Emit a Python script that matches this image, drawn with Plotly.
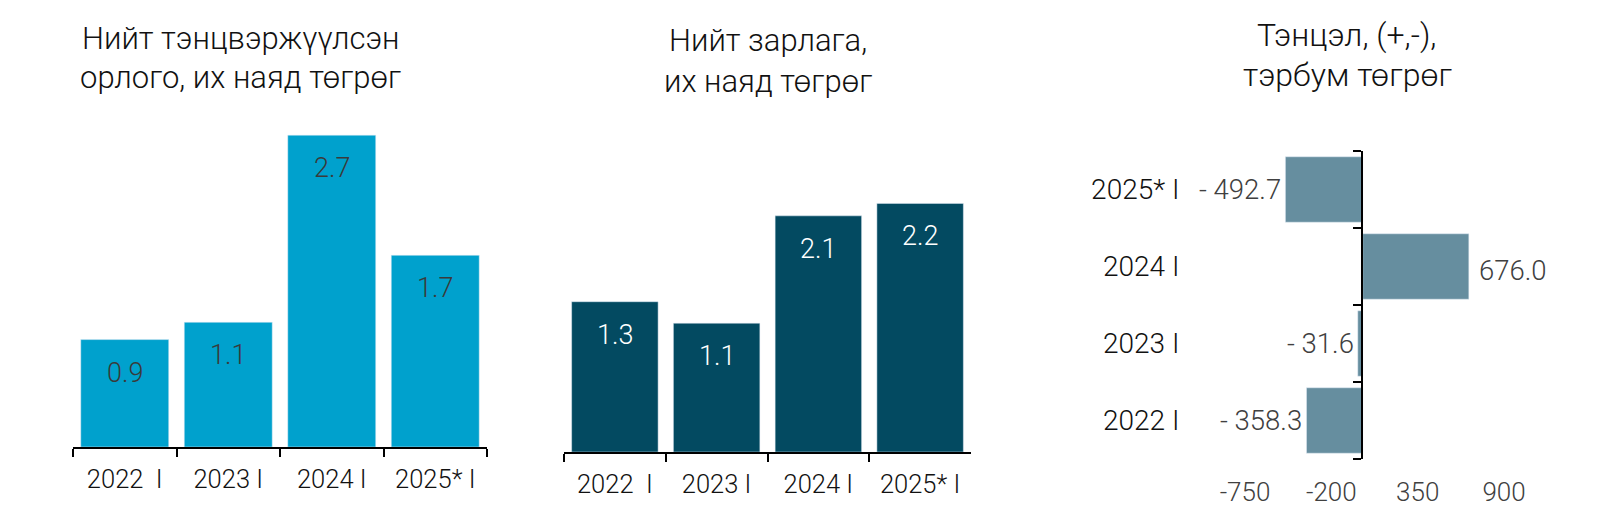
import plotly.graph_objects as go

# ---------------- data ----------------
years = ["2022  I", "2023 I", "2024 I", "2025* I"]
income = [0.93, 1.08, 2.70, 1.66]          # их наяд төгрөг
expenditure = [1.33, 1.14, 2.09, 2.20]     # их наяд төгрөг
balance_years = ["2022 I", "2023 I", "2024 I", "2025* I"]
balance = [-358.3, -31.6, 676.0, -492.7]   # тэрбум төгрөг
balance_ticks = [-750, -200, 350, 900]

title1 = ["Нийт тэнцвэржүүлсэн", "орлого, их наяд төгрөг"]
title2 = ["Нийт зарлага,", "их наяд төгрөг"]
title3 = ["Тэнцэл, (+,-),", "тэрбум төгрөг"]

# ---------------- style ----------------
OFF = 8                      # default page body margin
W, H = 1600 - 2 * OFF, 515 - 2 * OFF
FONT = "Roboto"
C1 = "#00A1CD"
C2 = "#034A61"
C3 = "#668E9F"


def fx(p):
    return (p - OFF) / W


def fy(p):
    return 1 - (p - OFF) / H


def fmt_bal(v):
    return f"- {abs(v):.1f}" if v < 0 else f"{v:.1f}"


fig = go.Figure()

fig.add_trace(go.Bar(x=years, y=income, marker_color=C1, width=0.85,
                     xaxis="x", yaxis="y", hoverinfo="skip"))
fig.add_trace(go.Bar(x=years, y=expenditure, marker_color=C2, width=0.85,
                     xaxis="x2", yaxis="y2", hoverinfo="skip"))
fig.add_trace(go.Bar(y=balance_years, x=balance, orientation="h", marker_color=C3,
                     width=0.85, xaxis="x3", yaxis="y3", hoverinfo="skip"))

annotations = []
# value labels inside vertical bars
for cat, v in zip(years, income):
    annotations.append(dict(x=cat, y=v, xref="x", yref="y", text=f"{v:.1f}",
                            showarrow=False, yanchor="middle", yshift=-33,
                            font=dict(family=FONT, size=27, color="#3a3a3a", weight=300)))
for cat, v in zip(years, expenditure):
    annotations.append(dict(x=cat, y=v, xref="x2", yref="y2", text=f"{v:.1f}",
                            showarrow=False, yanchor="middle", yshift=-33,
                            font=dict(family=FONT, size=27, color="white", weight=300)))
for cat, v in zip(balance_years, balance):
    annotations.append(dict(x=v, y=cat, xref="x3", yref="y3", text=fmt_bal(v),
                            showarrow=False,
                            xanchor="right" if v < 0 else "left",
                            xshift=-2 if v < 0 else 8,
                            yshift=0 if v < 0 else -4,
                            font=dict(family=FONT, size=27.5, color="#404040", weight=300)))

# titles
for lines, cx, ys, fs in [(title1, 241, (39, 77), 31),
                          (title2, 768, (41, 81), 31),
                          (title3, 1347, (35, 75), 32)]:
    for line, yy in zip(lines, ys):
        annotations.append(dict(x=fx(cx), y=fy(yy), xref="paper", yref="paper", text=line,
                                showarrow=False, xanchor="center", yanchor="middle",
                                font=dict(family=FONT, size=fs, color="#111111", weight=300)))

axis_cat = dict(type="category", range=[-0.5, 3.5], showline=True, linecolor="black",
                linewidth=2, ticks="outside", tickson="boundaries", ticklen=8, tickwidth=2,
                tickcolor="black", showgrid=False, zeroline=False, automargin=False,
                tickfont=dict(family=FONT, size=25.5, color="#111111", weight=300),
                ticklabelstandoff=8)

S1, B1, T1 = 115.5, 447, 100
S2, B2, T2 = 113.0, 452, 120

fig.update_layout(
    width=W, height=H,
    margin=dict(l=0, r=0, t=0, b=0, pad=0, autoexpand=False),
    paper_bgcolor="white", plot_bgcolor="white",
    showlegend=False,
    font=dict(family=FONT, weight=300),
    xaxis=dict(domain=[fx(73), fx(487)], anchor="y", **axis_cat),
    yaxis=dict(domain=[fy(B1), fy(T1)], range=[0, (B1 - T1) / S1], visible=False, anchor="x"),
    xaxis2=dict(domain=[fx(564), fx(971)], anchor="y2", **axis_cat),
    yaxis2=dict(domain=[fy(B2), fy(T2)], range=[0, (B2 - T2) / S2], visible=False, anchor="x2"),
    xaxis3=dict(domain=[fx(1245), fx(1504)], anchor="y3", range=[-750, 900],
                tickvals=balance_ticks, ticktext=[str(t) for t in balance_ticks],
                showline=False, showgrid=False, zeroline=False, ticks="", automargin=False,
                tickfont=dict(family=FONT, size=26, color="#404040", weight=300),
                ticklabelstandoff=15),
    yaxis3=dict(domain=[fy(459), fy(151)], anchor="free", position=fx(1362),
                type="category", range=[-0.5, 3.5], showline=True, linecolor="black",
                linewidth=2, ticks="outside", tickson="boundaries", ticklen=8, tickwidth=2,
                tickcolor="black", showgrid=False, zeroline=False, automargin=False,
                tickfont=dict(family=FONT, size=28, color="#111111", weight=300),
                ticklabelstandoff=176),
    annotations=annotations,
)

fig.write_html("out.html")
